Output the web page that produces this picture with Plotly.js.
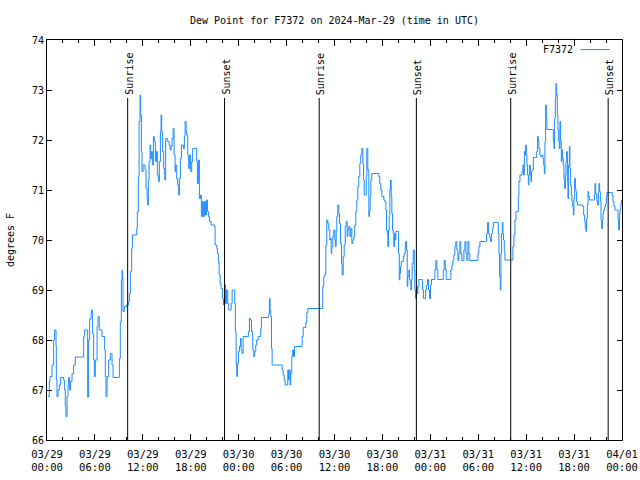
<!DOCTYPE html>
<html>
<head>
<meta charset="utf-8">
<script src="https://cdn.plot.ly/plotly-3.0.1.min.js"></script>
<style>html,body{margin:0;padding:0;background:#fff}#chart{width:640px;height:480px}</style>
</head>
<body>
<div id="chart"></div>
<script>
// Hours after 2024-03-29 00:00 UTC
const hours = [
0.13,0.29,0.38,0.63,0.83,0.95,1.13,1.17,1.25,1.38,1.54,1.70,2.08,2.21,2.29,2.38,2.51,2.63,2.71,2.83,2.96,3.13,3.33,3.55,4.46,4.59,4.71,5.01,5.09,5.21,
5.34,5.51,5.59,5.71,5.84,5.93,6.05,6.27,6.39,6.55,6.89,7.22,7.30,7.39,7.52,7.72,7.93,8.14,8.27,8.97,9.06,9.18,9.31,9.40,9.44,9.52,9.69,9.97,10.19,10.31,
10.44,10.60,10.69,11.10,11.23,11.31,11.44,11.53,11.65,11.73,11.82,11.90,12.03,12.28,12.40,12.53,12.61,12.69,12.78,12.91,12.98,13.11,13.19,13.32,13.44,13.57,13.70,13.82,13.95,14.07,
14.20,14.28,14.36,14.48,14.61,14.74,14.86,15.11,15.29,15.41,15.54,15.66,15.79,15.91,16.04,16.11,16.24,16.36,16.49,16.58,16.70,16.83,17.08,17.20,17.29,17.42,17.49,17.62,17.74,17.87,
17.99,18.12,18.24,18.67,18.74,18.83,18.96,19.08,19.21,19.33,19.46,19.58,19.71,19.84,19.96,20.09,20.21,20.34,20.55,20.96,21.05,21.25,21.34,21.46,21.55,21.68,21.80,21.97,22.09,22.13,
22.25,22.34,22.47,22.63,22.75,22.97,23.06,23.18,23.38,23.51,23.59,23.68,23.76,23.84,23.97,24.10,24.22,24.31,24.43,24.56,25.10,25.22,25.35,25.47,25.60,25.76,25.89,26.01,26.14,26.26,
26.44,26.64,26.76,26.85,27.69,27.77,27.85,27.94,28.02,28.11,28.19,29.36,29.45,29.57,29.70,29.82,30.07,30.15,30.24,30.32,30.45,30.52,30.65,30.77,30.86,30.99,31.86,31.95,32.08,32.28,
32.40,32.53,32.65,34.37,34.53,34.66,34.78,34.91,35.03,35.16,35.28,35.41,35.50,35.59,35.66,35.79,35.91,36.04,36.12,36.21,36.29,36.41,36.54,36.63,36.75,36.88,36.96,37.09,37.21,37.34,
37.46,37.59,37.67,37.79,37.92,38.04,38.17,38.29,38.42,38.54,38.67,38.79,38.92,39.04,39.17,39.29,39.42,39.55,39.63,39.72,39.85,39.97,40.05,40.17,40.30,40.38,40.47,40.55,40.67,41.47,
41.55,41.67,41.80,41.93,42.18,42.30,42.43,42.51,42.60,42.68,42.76,42.85,42.93,43.02,43.10,43.18,43.27,43.35,43.43,43.52,43.60,43.68,43.98,44.02,44.11,44.18,44.27,44.36,44.61,44.73,
44.86,44.90,45.02,45.11,45.18,45.31,45.40,45.48,45.56,45.65,45.73,45.86,45.99,46.06,46.15,46.27,46.36,46.44,46.56,46.90,47.03,47.15,47.28,47.40,47.53,47.65,47.78,47.90,48.03,48.15,
48.44,48.57,48.69,48.82,48.94,49.49,49.62,49.74,49.87,49.99,50.45,50.57,50.70,50.82,50.95,51.07,51.20,51.32,51.45,51.57,51.70,51.82,51.95,52.20,52.33,52.45,52.58,52.70,52.83,52.95,
53.83,53.96,54.08,54.21,54.92,55.04,55.17,55.30,55.42,55.55,55.67,55.80,55.92,56.42,56.51,56.59,56.67,56.76,56.84,56.92,57.01,57.09,57.17,57.26,57.34,58.18,58.34,58.47,58.59,58.72,
58.89,59.02,59.09,59.22,59.47,59.59,59.68,59.77,59.84,59.93,60.02,60.09,60.18,60.27,60.34,60.43,60.52,60.60,60.68,60.77,60.90,61.18,61.31,61.43,61.52,61.60,61.72,61.85,62.02,62.10,
62.19,62.27,62.35,62.44,62.52,62.60,63.28,63.40,63.48,63.56,63.65,63.73,63.82,63.90,63.98,64.07,64.15,64.23,64.32,64.40,64.48,64.57,64.65,64.73,64.82,64.91,64.98,65.07,65.16,65.23,
65.32,65.41,65.48,65.57,65.66,65.73,65.82,65.91,65.98,66.07,66.16,66.23,66.32,66.41,67.07,67.20,67.32,67.41,67.49,67.57,67.66,67.74,67.82,67.95,68.45,68.54,68.61,68.70,68.79,68.86,
68.95,69.04,69.12,69.20,69.29,69.37,69.45,69.54,69.62,69.70,69.83,69.95,70.04,70.12,70.71,70.79,70.87,71.00,71.12,71.50,71.58,71.67,71.75,71.87,71.96
];
// Dew point, degrees F
const dewF = [
66.87,67.17,67.27,67.5,68.0,68.2,67.87,67.2,66.87,67.0,67.1,67.25,67.2,67.0,66.67,66.47,66.87,67.1,67.25,67.0,67.17,67.33,67.5,67.66,67.66,68.07,68.2,68.2,66.86,68.0,
68.42,68.53,68.6,68.13,67.6,67.27,67.6,68.27,68.47,68.2,68.07,67.8,67.27,66.87,67.27,67.6,67.73,67.5,67.25,67.25,67.63,68.37,69.2,69.4,69.23,68.57,68.67,68.7,68.77,68.93,
69.37,69.83,70.1,70.1,70.23,70.57,71.27,72.37,72.9,72.5,71.77,71.37,71.5,71.4,71.03,70.83,70.7,71.2,71.57,71.9,71.63,71.77,71.5,72.07,71.97,71.57,71.77,71.3,71.17,71.57,
72.17,72.5,72.17,71.77,71.43,71.2,72.03,71.97,71.9,71.8,71.87,72.03,72.23,71.7,71.37,71.5,71.23,71.1,70.9,71.23,71.63,71.9,71.83,72.07,72.37,72.17,72.1,71.7,71.43,71.7,
71.37,71.57,71.83,71.83,71.57,71.13,71.6,70.83,70.9,70.47,70.77,70.47,70.77,70.5,70.8,70.57,70.47,70.37,70.3,70.27,69.9,69.83,69.73,69.57,69.3,69.13,69.03,68.83,68.7,68.77,
69.1,68.73,69.0,68.73,68.6,68.6,68.73,69.0,69.0,68.73,68.17,67.53,67.27,67.53,67.77,67.87,68.03,67.8,67.73,68.07,68.07,68.17,68.43,68.4,68.17,67.8,67.67,67.77,67.9,68.0,
68.07,68.07,68.23,68.45,68.45,68.53,68.83,68.6,68.47,67.83,67.5,67.5,67.4,67.3,67.2,67.1,67.1,67.4,67.2,67.4,67.1,67.33,67.67,67.8,67.67,67.87,67.87,68.07,68.25,68.25,
68.35,68.55,68.63,68.63,69.07,69.27,69.3,69.9,70.4,70.33,70.2,70.0,70.03,69.73,69.87,70.07,70.2,70.0,69.87,70.2,70.47,70.7,70.53,70.33,69.93,69.53,69.3,69.67,69.9,70.27,
70.37,70.07,70.2,70.27,70.07,70.23,69.93,70.0,70.07,70.3,70.57,70.8,71.07,71.27,71.53,71.7,71.83,71.53,71.2,70.9,70.9,71.27,71.83,71.4,70.47,70.6,70.87,71.2,71.33,71.33,
71.27,71.13,71.0,70.87,70.8,70.77,70.6,70.2,70.13,69.87,70.2,70.47,71.0,71.2,70.87,70.53,70.2,70.13,69.87,70.13,70.0,70.17,70.17,69.73,69.2,69.33,69.47,69.57,69.67,69.73,
69.87,69.97,69.8,69.07,69.27,69.4,69.21,69.13,69.0,69.21,69.53,69.8,69.4,69.0,68.83,69.07,68.93,69.07,69.21,69.21,69.0,68.83,68.83,69.0,69.1,69.21,69.0,68.83,69.1,69.21,
69.21,69.4,69.59,69.4,69.21,69.21,69.4,69.59,69.4,69.21,69.21,69.4,69.5,69.59,69.7,69.87,69.97,69.8,69.59,69.73,69.97,69.73,69.59,69.8,69.97,69.73,69.59,69.97,69.73,69.59,
69.59,69.73,69.87,69.97,69.97,70.13,70.35,70.13,70.05,69.97,70.13,70.25,70.35,70.35,70.13,69.73,69.27,69.0,69.73,70.13,70.35,70.13,70.0,69.75,69.6,69.6,69.87,70.1,70.4,70.57,
70.57,70.87,71.17,71.3,71.37,71.5,71.3,71.77,71.7,71.9,71.7,71.5,71.3,71.1,71.3,71.5,71.3,71.17,71.37,71.4,71.65,71.65,71.77,72.07,71.97,71.83,71.7,71.67,71.7,71.63,
71.5,71.33,71.97,72.7,72.43,72.21,72.21,71.97,71.83,72.43,72.83,73.13,72.9,72.5,72.2,71.97,71.83,72.37,71.97,71.57,71.8,71.63,71.5,71.23,71.03,71.3,71.57,71.77,71.17,70.83,
71.5,71.87,71.43,71.1,70.9,70.77,70.67,70.5,70.83,71.23,71.03,70.97,70.77,70.7,70.67,70.5,70.37,70.23,70.17,70.43,70.7,70.97,70.87,70.8,70.8,70.9,71.13,70.93,70.9,70.77,
70.7,70.97,71.13,70.97,70.77,70.4,70.23,70.4,70.53,70.6,70.67,70.73,70.87,70.95,70.95,70.9,70.77,70.67,70.6,70.43,70.2,70.5,70.6,70.75,70.8
];
const sunTimes = ['2024-03-29 10:06','2024-03-29 22:14','2024-03-30 10:05','2024-03-30 22:15','2024-03-31 10:04','2024-03-31 22:16'];
const sunLabels = ['Sunrise','Sunset','Sunrise','Sunset','Sunrise','Sunset'];
const stationName = 'F7372';
const chartTitle = 'Dew Point for F7372 on 2024-Mar-29 (time in UTC)';
const yLabel = 'degrees F';

const startMs = Date.UTC(2024, 2, 29);
function toStamp(h) {
  return new Date(startMs + Math.round(h * 3600) * 1000).toISOString().replace('T', ' ').slice(0, 19);
}
const times = hours.map(toStamp);

const lineColor = '#1a8cff';
const fontFam = '"DejaVu Sans Mono", "Liberation Mono", monospace';
const SUN_LINE_TOP = 72.84;

const trace = {
  x: times, y: dewF, type: 'scatter', mode: 'lines', name: stationName,
  line: { color: lineColor, width: 1, shape: 'hv' }, hoverinfo: 'skip'
};

const shapes = sunTimes.map(t => ({
  type: 'line', xref: 'x', yref: 'y', x0: t, x1: t, y0: 66, y1: SUN_LINE_TOP,
  line: { color: '#000', width: 1 }, layer: 'above'
}));
shapes.push({ type: 'line', xref: 'paper', yref: 'paper', x0: 0.928, x1: 0.979, y0: 0.976, y1: 0.976,
  line: { color: lineColor, width: 1 } });

const annotations = sunTimes.map((t, i) => ({
  x: t, y: 72.88, xref: 'x', yref: 'y', text: sunLabels[i], textangle: -90,
  showarrow: false, xanchor: 'center', yanchor: 'bottom', borderpad: 0, xshift: 1,
  font: { family: fontFam, size: 10, color: '#000' }
}));
annotations.push({ x: 0.918, y: 0.976, xref: 'paper', yref: 'paper', text: stationName,
  showarrow: false, xanchor: 'right', yanchor: 'middle', font: { family: fontFam, size: 10, color: '#000' } });

const layout = {
  width: 640, height: 480,
  margin: { l: 47, r: 18, t: 40, b: 40 },
  paper_bgcolor: '#fff', plot_bgcolor: '#fff',
  font: { family: fontFam, size: 10, color: '#000' },
  showlegend: false,
  title: { text: chartTitle, x: 0.5, xref: 'paper', xanchor: 'center', y: 0.958, yref: 'container', yanchor: 'middle',
    font: { family: fontFam, size: 10, color: '#000' } },
  xaxis: {
    type: 'date', range: ['2024-03-29 00:00', '2024-04-01 00:00'],
    tick0: '2024-03-29 00:00', dtick: 6 * 3600000, tickformat: '%m/%d<br>%H:%M',
    ticks: 'inside', ticklen: 6, tickcolor: '#000', tickwidth: 1,
    minor: { dtick: 2 * 3600000, ticks: 'inside', ticklen: 3, tickcolor: '#000', showgrid: false },
    showline: true, linecolor: '#000', linewidth: 1, mirror: 'ticks',
    showgrid: false, zeroline: false, fixedrange: true, ticklabelstandoff: 4,
    tickfont: { family: fontFam, size: 10.5, color: '#000' }
  },
  yaxis: {
    range: [66, 74], dtick: 1, tick0: 66,
    ticks: 'inside', ticklen: 5, tickcolor: '#000', tickwidth: 1,
    showline: true, linecolor: '#000', linewidth: 1, mirror: 'ticks',
    showgrid: false, zeroline: false, fixedrange: true,
    title: { text: yLabel, standoff: 15, font: { family: fontFam, size: 10, color: '#000' } }
  },
  shapes: shapes,
  annotations: annotations
};

Plotly.newPlot('chart', [trace], layout, { staticPlot: true, displayModeBar: false });
</script>
</body>
</html>
